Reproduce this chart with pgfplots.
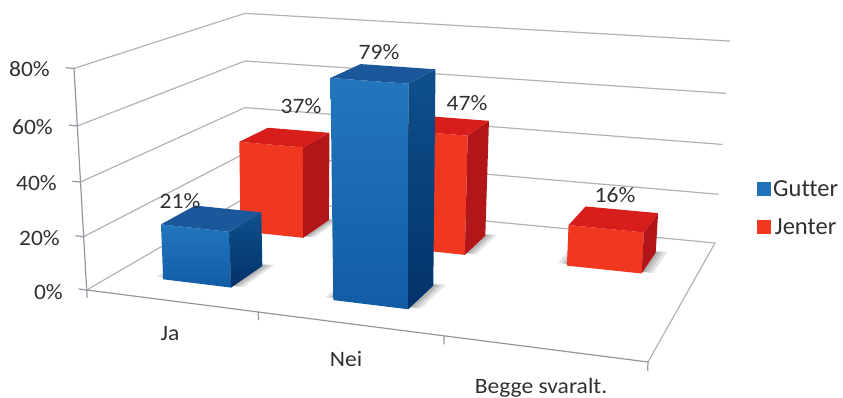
\documentclass[border=0pt]{standalone}
\usepackage{pgfplots}
\pgfplotsset{compat=1.18}
\usepackage{fontspec}
\setmainfont[Ligatures=NoCommon]{Carlito}
\definecolor{txt}{RGB}{48,48,52}
\definecolor{gridc}{RGB}{178,178,184}
\definecolor{axisc}{RGB}{150,150,160}
\definecolor{blueL}{RGB}{34,118,190}
\definecolor{blueB}{RGB}{18,92,165}
\definecolor{blueT}{RGB}{26,88,155}
\definecolor{blueSa}{RGB}{14,80,140}
\definecolor{blueSb}{RGB}{3,50,105}
\definecolor{redF}{RGB}{240,56,33}
\definecolor{redT}{RGB}{216,30,26}
\definecolor{redS}{RGB}{178,22,24}
% Perspective from box coordinates (u across, v into the depth, w in percent) to the drawing plane
\newcommand{\dn}{(1-0.14558*\thisrow{u}+0.21501*\thisrow{v}-0.05*\thisrow{w}/80)}
\newcommand{\xp}{(466.96*\thisrow{u}+210.98*\thisrow{v}+86.7+(-16.4+4*\thisrow{v}-8*\thisrow{u})*\thisrow{w}/80)/\dn}
\newcommand{\yp}{(19.30*\thisrow{u}-49.43*\thisrow{v}+290+(-225+7*\thisrow{u})*\thisrow{w}/80)/\dn}
\newcommand{\face}[2]{\addplot[forget plot,no markers,draw=none,#1] table[x expr=\xp,y expr=\yp,row sep=\\]{u v w\\ #2};}
\newcommand{\wire}[2]{\addplot[forget plot,no markers,line width=1.2pt,#1] table[x expr=\xp,y expr=\yp,row sep=\\]{u v w\\ #2};}
\newcommand{\shadowlayer}[5]{%
  \pgfmathsetmacro\sa{#2-#1}\pgfmathsetmacro\sb{#3+#1}%
  \pgfmathsetmacro\sc{#4+0.015}\pgfmathsetmacro\sd{#5+#1}%
  \edef\doit{\noexpand\face{fill=black,fill opacity=0.11}{\sa\space\sc\space 0\noexpand\\ \sb\space\sc\space 0\noexpand\\ \sb\space\sd\space 0\noexpand\\ \sa\space\sd\space 0\noexpand\\}}\doit}
% One bar: u from, u to, v from, v to, percent, face styles
\newcommand{\drawbar}[8]{%
  \shadowlayer{0.006}{#1}{#2}{#3}{#4}%
  \shadowlayer{0.012}{#1}{#2}{#3}{#4}%
  \shadowlayer{0.019}{#1}{#2}{#3}{#4}%
  \face{#6}{#1 #3 0\\ #2 #3 0\\ #2 #3 #5\\ #1 #3 #5\\}
  \face{#7}{#2 #3 0\\ #2 #4 0\\ #2 #4 #5\\ #2 #3 #5\\}
  \face{#8}{#1 #3 #5\\ #2 #3 #5\\ #2 #4 #5\\ #1 #4 #5\\}}
\newcommand{\gutterbar}[3]{\drawbar{#1}{#2}{0.153}{0.355}{#3}{top color=blueL,bottom color=blueB}{top color=blueSa,bottom color=blueSb}{fill=blueT}}
\newcommand{\jenterbar}[3]{\drawbar{#1}{#2}{0.647}{0.849}{#3}{fill=redF}{fill=redS}{fill=redT}}
\begin{document}
\begin{tikzpicture}[x=1pt,y=1pt,lab/.style={font=\fontsize{22}{24}\selectfont,text=txt,inner sep=0pt,xscale=1.07}]
\useasboundingbox (0,0) rectangle (843,398);
\begin{axis}[
  at={(0,0)},anchor=south west,
  scale only axis,width=843pt,height=398pt,
  xmin=0,xmax=843,ymin=0,ymax=398,y dir=reverse,
  hide axis,clip=true,
  legend image code/.code={\path[draw=none,#1] (0pt,-7pt) rectangle (14pt,7pt);},
  legend style={at={(axis cs:754,176)},anchor=north west,draw=none,fill=none,
    font=\fontsize{24.5}{26}\selectfont,text=txt,row sep=17pt,
    /tikz/every even column/.append style={column sep=8pt}},
]
% Wall gridlines, one for each tick of the value axis
\wire{gridc}{0 0 20\\ 0 1 20\\ 1 1 20\\}
\wire{gridc}{0 0 40\\ 0 1 40\\ 1 1 40\\}
\wire{gridc}{0 0 60\\ 0 1 60\\ 1 1 60\\}
\wire{gridc}{0 0 80\\ 0 1 80\\ 1 1 80\\}
\wire{gridc}{0 0 0\\ 0 1 0\\ 1 1 0\\ 1 0 0\\}
\wire{axisc}{0 0 0\\ 0 0 80\\}
\wire{axisc}{0 0 0\\ 1 0 0\\}
% Tick marks on both axes
\wire{axisc}{-0.017 0 0\\ 0 0 0\\}
\wire{axisc}{-0.017 0 20\\ 0 0 20\\}
\wire{axisc}{-0.017 0 40\\ 0 0 40\\}
\wire{axisc}{-0.017 0 60\\ 0 0 60\\}
\wire{axisc}{-0.017 0 80\\ 0 0 80\\}
\wire{axisc}{0 0 0\\ 0 0 -3\\}
\wire{axisc}{0.34 0 0\\ 0.34 0 -3\\}
\wire{axisc}{0.672 0 0\\ 0.672 0 -3\\}
\wire{axisc}{1 0 0\\ 1 0 -3\\}
% Bars, back row first
\jenterbar{0.101}{0.239}{37}
\jenterbar{0.437}{0.573}{47}
\jenterbar{0.769}{0.906}{16}
\gutterbar{0.101}{0.239}{21}
\gutterbar{0.437}{0.575}{79}
% Value labels
\node[lab] at (axis cs:180,201) {21\%};
\node[lab] at (axis cs:301,106) {37\%};
\node[lab] at (axis cs:379,52) {79\%};
\node[lab] at (axis cs:467,103) {47\%};
\node[lab] at (axis cs:615,195) {16\%};
\node[lab,anchor=east] at (axis cs:50,69) {80\%};
\node[lab,anchor=east] at (axis cs:53,127) {60\%};
\node[lab,anchor=east] at (axis cs:57,183) {40\%};
\node[lab,anchor=east] at (axis cs:60,238) {20\%};
\node[lab,anchor=east] at (axis cs:63,292) {0\%};
\node[lab] at (axis cs:170,334) {Ja};
\node[lab] at (axis cs:346,359) {Nei};
\node[lab] at (axis cs:541,388) {Begge svaralt.};
\addlegendimage{fill=blueL!90!blueB}
\addlegendentry{Gutter}
\addlegendimage{fill=redF}
\addlegendentry{Jenter}
\end{axis}
\end{tikzpicture}
\end{document}
